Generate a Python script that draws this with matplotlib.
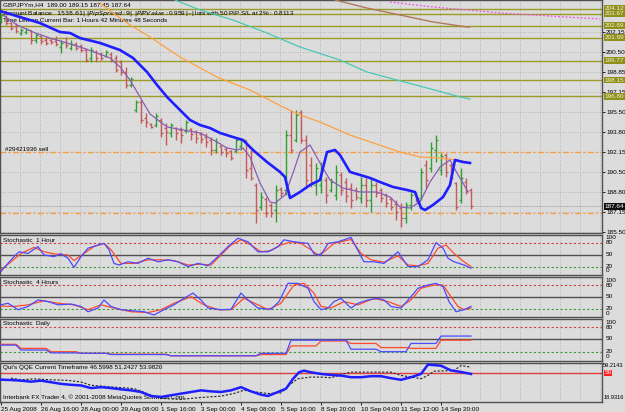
import numpy as np
import matplotlib
matplotlib.use("Agg")
import matplotlib.pyplot as plt
import matplotlib.transforms as mtransforms

plt.rcParams["font.family"] = ["Liberation Sans", "DejaVu Sans"]

# ---- price bars (GBPJPYm H4) ----
opens = [203.16, 203.50, 202.91, 202.66, 202.08, 202.16, 202.33, 201.50, 201.83, 201.50,
         201.50, 201.41, 200.91, 201.33, 200.83, 201.16, 201.00, 200.66, 200.00, 200.50,
         200.33, 200.16, 200.33, 200.00, 199.66, 198.83, 197.75, 195.66, 196.33, 195.00,
         194.50, 194.41, 194.83, 194.16, 193.75, 194.16, 194.00, 193.91, 194.08, 193.83,
         193.66, 193.41, 193.16, 192.33, 192.66, 192.41, 192.25, 192.25, 192.66, 193.16,
         190.83, 189.41, 187.58, 188.25, 187.75, 187.33, 189.08, 189.00, 193.58, 193.16,
         195.50, 193.16, 191.08, 189.41, 189.41, 189.83, 189.00, 188.58, 190.25, 189.66,
         189.16, 189.00, 188.33, 189.41, 188.16, 189.41, 189.00, 188.58, 188.25, 187.83,
         187.50, 186.66, 187.75, 188.66, 188.33, 191.08, 190.83, 192.33, 190.66, 191.91,
         191.08, 189.58, 188.16, 189.66, 189.00]
highs = [203.75, 203.58, 203.00, 202.91, 202.50, 202.50, 202.33, 202.08, 201.91, 201.75,
         201.66, 201.83, 201.50, 201.75, 201.50, 201.33, 201.16, 200.83, 200.91, 200.66,
         200.50, 200.66, 200.50, 200.25, 199.83, 199.25, 198.41, 196.50, 196.50, 195.41,
         194.58, 195.41, 195.00, 194.58, 194.58, 194.25, 194.25, 194.83, 194.16, 194.00,
         193.83, 193.75, 193.41, 193.33, 192.75, 192.58, 192.33, 193.41, 193.33, 193.16,
         192.33, 189.58, 188.83, 188.41, 187.91, 189.41, 189.25, 194.00, 195.66, 195.66,
         195.66, 193.58, 191.75, 191.25, 191.33, 190.08, 190.00, 191.08, 190.50, 190.00,
         189.58, 189.25, 190.08, 190.00, 190.00, 189.66, 189.16, 188.75, 188.41, 188.16,
         187.91, 188.00, 188.83, 188.83, 190.83, 191.50, 193.00, 193.58, 192.08, 192.08,
         191.25, 189.66, 190.83, 190.00, 189.15]
lows = [202.91, 202.75, 202.33, 202.08, 201.91, 202.00, 201.16, 201.25, 201.16, 201.08,
        201.16, 201.00, 200.41, 200.83, 200.66, 200.66, 200.50, 199.66, 199.66, 199.66,
        199.83, 200.08, 199.66, 198.83, 198.58, 197.50, 197.58, 195.50, 194.58, 194.25,
        194.16, 194.25, 193.41, 192.75, 193.41, 193.16, 192.91, 193.75, 193.16, 192.91,
        192.91, 192.58, 191.91, 192.08, 191.91, 191.75, 191.50, 192.08, 192.33, 190.00,
        189.83, 186.25, 187.33, 186.75, 186.75, 186.33, 188.41, 188.58, 192.08, 193.00,
        192.91, 189.25, 189.25, 188.58, 188.75, 187.91, 188.83, 188.16, 188.58, 188.00,
        187.50, 188.16, 187.91, 187.58, 187.16, 188.41, 188.00, 187.58, 187.33, 186.50,
        185.91, 186.25, 187.33, 188.00, 188.16, 189.16, 190.50, 191.33, 190.25, 190.08,
        189.83, 187.33, 187.91, 188.66, 187.45]
closes = [203.58, 202.91, 202.50, 202.25, 202.33, 202.41, 201.50, 201.91, 201.41, 201.25,
          201.33, 201.16, 201.25, 201.08, 201.16, 200.83, 200.66, 199.83, 200.66, 200.00,
          200.00, 200.50, 199.83, 199.00, 198.83, 197.75, 198.25, 196.33, 194.83, 194.66,
          194.25, 195.16, 193.75, 193.83, 194.41, 193.75, 193.58, 194.66, 193.66, 193.33,
          193.25, 193.00, 192.33, 193.00, 192.16, 192.08, 191.66, 193.16, 193.16, 190.66,
          190.00, 187.33, 188.41, 187.08, 187.08, 189.00, 188.75, 193.58, 192.33, 195.25,
          193.16, 189.83, 189.66, 190.83, 190.66, 188.58, 189.66, 190.50, 189.00, 188.50,
          188.16, 188.41, 189.41, 188.16, 189.41, 188.75, 188.33, 187.91, 187.58, 187.16,
          186.66, 187.75, 188.58, 188.25, 190.50, 189.83, 192.50, 193.16, 191.83, 190.50,
          190.00, 187.58, 190.00, 188.91, 187.64]

# ---- moving averages (bar index, price) ----
blue_ma_x = [-0.2, 3.8, 7.8, 11.8, 13.8, 15.8, 19.8, 23.8, 26.4, 29.2, 31.2, 33.2, 35.8, 37.8,
             39.8, 41.8, 43.8, 46.4, 48.4, 50.4, 53.2, 55.8, 56.8, 57.8, 59.8, 61.8, 63.8,
             65.2, 66.8, 67.8, 69.8, 71.8, 73.8, 75.8, 78.4, 81.2, 82.8, 84.0, 84.8, 86.4,
             88.4, 89.8, 90.8, 92.4, 93.8]
blue_ma_y = [203.91, 203.41, 202.91, 202.16, 202.08, 201.66, 201.25, 200.66, 200.00, 198.83,
             197.75, 196.75, 195.66, 194.83, 194.41, 194.16, 193.75, 193.41, 193.16, 192.33,
             191.33, 190.50, 190.08, 188.33, 188.83, 189.41, 189.83, 192.16, 192.33, 191.91,
             190.50, 190.25, 190.00, 189.66, 189.25, 189.00, 188.83, 187.50, 187.33, 187.75,
             188.41, 189.41, 191.50, 191.33, 191.25]
purple_ma_x = [0.4, 3.2, 6.4, 9.8, 13.2, 16.4, 19.2, 21.8, 23.8, 25.8, 27.8, 29.8, 33.2, 36.4,
               39.8, 43.2, 45.2, 47.2, 48.4, 49.8, 51.8, 53.8, 54.8, 56.8, 58.4, 59.8, 61.8,
               63.8, 65.8, 68.4, 71.8, 75.2, 77.8, 79.8, 81.8, 83.8, 85.8, 87.8, 89.8, 91.2,
               92.4, 93.4]
purple_ma_y = [203.58, 202.75, 202.16, 201.66, 201.25, 200.83, 200.41, 200.00, 199.25, 198.16,
               196.75, 195.33, 194.25, 194.00, 193.75, 193.00, 192.50, 192.33, 192.50, 191.75,
               189.58, 188.00, 187.91, 188.58, 190.41, 192.16, 192.75, 191.25, 189.83, 189.16,
               188.83, 188.83, 188.41, 187.58, 187.50, 188.00, 189.66, 190.91, 191.50, 190.41,
               189.58, 188.83]
orange_ma_x = [19.8, 22.4, 25.8, 29.8, 35.8, 43.2, 49.8, 56.4, 59.8, 63.8, 69.8, 79.8, 83.8,
               87.8, 91.2, 93.2]
orange_ma_y = [204.58, 203.75, 202.75, 201.75, 200.08, 198.41, 197.33, 195.91, 195.25, 194.66,
               193.58, 192.16, 191.75, 191.66, 191.50, 191.33]
cyan_ma_x = [34.8, 39.8, 46.4, 53.2, 59.8, 67.8, 73.2, 79.2, 85.2, 91.8, 93.8]
cyan_ma_y = [204.83, 204.00, 203.16, 202.08, 200.91, 199.83, 198.83, 198.16, 197.50, 196.75, 196.58]
brown_ma_x = [66.8, 73.2, 79.8, 86.4, 93.2, 93.8]
brown_ma_y = [204.83, 204.16, 203.58, 203.00, 202.58, 202.58]
magenta_x = [77.8, 86.4, 93.2, 99.8, 106.4, 113.2, 119.8]
magenta_y = [204.66, 204.25, 204.00, 203.75, 203.58, 203.41, 203.25]

olive_levels = [204.12, 203.67, 202.69, 201.69, 199.77, 198.15, 196.80]
order_levels = [192.15, 187.05]
bid_price = 187.64
price_ticks = [185.50, 187.15, 188.80, 190.50, 192.15, 193.80, 195.50, 197.15, 198.85, 200.50, 202.15]

# ---- stochastic 1 hour ----
st1_blue_x = [0, 1.4, 2.6, 3.6, 5.4, 7.4, 8.6, 10.6, 12, 13.4, 14.6, 16, 17.4, 19.4, 20.6, 21.6,
              22.6, 23.6, 25.4, 27.4, 29.4, 31.4, 33.4, 35.4, 37.4, 39.4, 41.4, 43.4, 45.4, 47.4,
              49.4, 51.4, 53.4, 55.4, 56.6, 58.6, 60, 61.4, 62.6, 64, 65.4, 67.4, 70, 72.6, 74.6,
              76.6, 79.4, 81.4, 83.4, 85.4, 87, 88.4, 89.4, 90.6, 92.6, 94]
st1_blue_y = [8, 28, 45, 57, 53, 70, 49, 45, 52, 41, 18, 45, 66, 74, 78, 62, 28, 24, 32, 28, 41,
              32, 37, 32, 20, 28, 22, 45, 70, 91, 82, 57, 57, 70, 87, 82, 80, 78, 52, 49, 78, 82,
              93, 32, 32, 28, 57, 20, 20, 37, 80, 66, 41, 32, 24, 16]
st1_red_x = [0, 2, 4, 6.6, 8.6, 10.6, 13.4, 14.6, 16.6, 18.6, 20.6, 22, 24, 26.6, 29.4, 32, 34.6,
             37.4, 40, 42, 44, 46, 48, 50, 52, 54, 56, 58, 60, 62, 63.4, 64.6, 66.6, 70, 72, 74,
             76.6, 79.4, 81.4, 83.4, 85.4, 87.4, 89, 90.6, 92.6, 94]
st1_red_y = [12, 32, 53, 68, 57, 52, 49, 35, 53, 70, 78, 62, 28, 28, 37, 37, 35, 24, 26, 24, 49,
             74, 87, 74, 57, 60, 74, 82, 78, 62, 49, 57, 78, 88, 53, 37, 31, 47, 24, 22, 28, 66,
             74, 53, 32, 20]

# ---- stochastic 4 hours ----
st4_blue_x = [0, 1.4, 3.4, 5.4, 7.4, 9.4, 11.4, 14, 16, 17.4, 19.4, 20.6, 22, 24, 26.6, 28.6,
              30.6, 32.6, 34.6, 36.6, 38.4, 40, 41.4, 44, 46, 48, 49.4, 51.4, 54, 55.6, 57.4,
              59.4, 60, 61.4, 62.6, 64, 65.4, 66.6, 68, 70, 71.4, 73.4, 75.4, 76.6, 78, 80, 82,
              83.4, 85.4, 87, 88.4, 89.6, 91, 92.6, 94]
st4_blue_y = [31, 35, 19, 27, 43, 39, 31, 33, 27, 14, 23, 43, 27, 19, 16, 14, 6, 19, 31, 47, 60,
              43, 23, 19, 20, 60, 43, 23, 20, 39, 84, 84, 80, 72, 39, 19, 23, 39, 47, 23, 35, 43,
              47, 43, 27, 23, 51, 72, 80, 84, 76, 39, 14, 19, 27]
st4_red_x = [0, 2.6, 5.4, 8.6, 11.4, 14.6, 17.4, 20, 22.6, 26, 29.4, 32, 34.6, 38, 40.6, 43.4,
             46, 48.6, 51.4, 53.4, 56, 58.6, 60.6, 62.6, 64, 66, 68.6, 71.4, 74.6, 77.4, 80, 82,
             84, 86.6, 88.4, 90, 91.4, 92.6, 94]
st4_red_y = [28, 27, 31, 41, 35, 31, 19, 31, 23, 14, 12, 19, 35, 51, 31, 19, 19, 47, 31, 19, 35,
             80, 84, 60, 27, 23, 39, 31, 47, 39, 27, 43, 72, 80, 80, 51, 27, 19, 23]

# ---- stochastic daily (one value per day, days start at these bars) ----
day_start = [0, 4, 10, 16, 22, 28, 34, 40, 46, 52, 58, 64, 70, 76, 82, 88, 95]
std_blue = [36, 24, 17, 16, 13, 13, 10, 10, 10, 16, 48, 48, 26, 20, 40, 58]
std_red = [38, 28, 20, 16, 14, 14, 10, 10, 10, 13, 34, 46, 40, 30, 28, 48]

# ---- QQE ----
qqe_x = [0, 2, 4, 6, 8, 10, 12, 14, 16, 18, 20, 22, 24, 26, 28, 30, 32, 34, 36, 38, 40, 42, 44,
         46, 48, 50, 52, 53.4, 57, 58.4, 59.6, 60.6, 62, 64, 66, 68, 70, 72, 74, 76, 78, 80, 82,
         84, 85.4, 88, 90, 92, 94]
qqe_y = [41.2, 40.7, 39.9, 38.6, 39.9, 37.9, 35.8, 34.6, 33.8, 30.4, 31.6, 30.4, 28.8, 27.5,
         25.4, 20.3, 19.1, 21.2, 23.3, 25.4, 27.5, 26.2, 25.4, 27.5, 31.6, 26.2, 22.0, 20.3, 29.6,
         42.2, 50.6, 52.7, 50.6, 48.5, 47.2, 46.4, 44.3, 44.3, 45.6, 45.6, 43.1, 41.0, 44.3, 48.5,
         60.5, 59.0, 53.0, 51.0, 48.5]
sig_x = [2, 4, 6.6, 10, 13.4, 16, 18, 22, 26.6, 30, 32, 36, 40, 44, 46.6, 48.6, 50.6, 53.4, 56,
         58, 59.4, 62, 64, 66, 68.6, 70, 78, 80, 84, 85.4, 86.6, 90.6, 92, 94]
sig_y = [43.2, 41.0, 42.2, 41.0, 40.3, 38.2, 34.0, 31.9, 29.8, 21.4, 17.2, 15.9, 18.4, 20.1, 23.5,
         27.7, 25.6, 23.5, 24.3, 36.0, 42.4, 44.5, 44.5, 43.6, 48.7, 50.8, 50.8, 46.6, 42.4, 46.6,
         52.0, 52.9, 59.2, 57.1]

tick_pos = [0, 8, 16, 24, 32, 40, 48, 56, 64, 72, 80, 88]
tick_labels = ["25 Aug 2008", "26 Aug 16:00", "28 Aug 00:00", "29 Aug 08:00", "1 Sep 16:00",
               "3 Sep 00:00", "4 Sep 08:00", "5 Sep 16:00", "8 Sep 20:00", "10 Sep 04:00",
               "11 Sep 12:00", "14 Sep 20:00"]

W, H = 625, 412
BG = "#dcdcdc"
FS = 4.6
XLIM = (-0.2, 120.2)
GRID = dict(color="#a8a8a8", linestyle=(0, (1, 2)), linewidth=0.6)


def px_axes(fig, x0, y0, x1, y1):
    ax = fig.add_axes([x0 / W, 1 - y1 / H, (x1 - x0) / W, (y1 - y0) / H])
    ax.set_facecolor(BG)
    ax.set_xlim(*XLIM)
    for s in ax.spines.values():
        s.set_color("#505050")
        s.set_linewidth(1.0)
    ax.set_xticks([])
    ax.yaxis.tick_right()
    ax.tick_params(axis="y", length=2, width=0.6, pad=1, labelsize=FS, colors="black")
    for gx in np.arange(3.8, 120, 4):
        ax.axvline(gx, zorder=0, **GRID)
    return ax


def right_box(ax, y, txt, fc, tc="white"):
    tr = mtransforms.blended_transform_factory(ax.transAxes, ax.transData)
    ax.text(1.004, y, txt, transform=tr, fontsize=FS, color=tc, va="center", ha="left",
            bbox=dict(boxstyle="square,pad=0.12", fc=fc, ec="none"), zorder=10, clip_on=False)


fig = plt.figure(figsize=(W / 100, H / 100), dpi=100)
fig.patch.set_facecolor(BG)

# ---------------- main price pane ----------------
ax = px_axes(fig, 0, 0, 602, 233)
ax.set_ylim(204.83 - 233 / 12, 204.83)
ax.set_yticks(price_ticks)
ax.set_yticklabels([f"{v:.2f}" for v in price_ticks])
for v in price_ticks:
    ax.axhline(v, zorder=0, **GRID)

for lv in olive_levels:
    ax.axhline(lv, color="#9c9c28", linewidth=1.0, zorder=1)
    right_box(ax, lv, f"{lv:.2f}", "#8f8f1c", "#f4f4d0")
for lv in order_levels:
    ax.axhline(lv, color="#ff9a3c", linewidth=1.0, linestyle=(0, (4, 2, 1, 2)), zorder=1)
ax.axhline(bid_price, color="#909090", linewidth=0.6, linestyle=(0, (1, 1)), zorder=1)
right_box(ax, bid_price, f"{bid_price:.2f}", "#101010")

idx = np.arange(len(opens))
o, h, l, c = map(np.array, (opens, highs, lows, closes))
up = c >= o
for mask, col in ((up, "#2fa02f"), (~up, "#c45a5a")):
    ax.vlines(idx[mask], l[mask], h[mask], color=col, linewidth=1.0, zorder=3)
    ax.hlines(o[mask], idx[mask] - 0.4, idx[mask], color=col, linewidth=1.0, zorder=3)
    ax.hlines(c[mask], idx[mask], idx[mask] + 0.4, color=col, linewidth=1.0, zorder=3)

ax.plot(orange_ma_x, orange_ma_y, color="#ffa040", linewidth=0.9, zorder=4)
ax.plot(cyan_ma_x, cyan_ma_y, color="#48c8b8", linewidth=0.9, zorder=4)
ax.plot(brown_ma_x, brown_ma_y, color="#b0785a", linewidth=1.0, zorder=4)
ax.plot(magenta_x, magenta_y, color="#f050f0", linewidth=0.9, linestyle=(0, (1.5, 1.5)), zorder=4)
ax.plot(purple_ma_x, purple_ma_y, color="#8a5cb8", linewidth=0.9, zorder=4)
ax.plot(blue_ma_x, blue_ma_y, color="#1e1eff", linewidth=1.9, zorder=5)

hdr = dict(transform=ax.transAxes, fontsize=FS, color="black", ha="left", va="center", zorder=2)
ax.text(3 / 602, 1 - 5 / 233, "GBPJPYm,H4  189.00 189.15 187.45 187.64", **hdr)
ax.text(3 / 602, 1 - 13 / 233,
        "Account Balance:  $1538.61 |~| Pip Spread:  9 |~| PIP Value:  $0.959 |~| "
        "lots with 50 PIP S/L at 2% : 0.8113", **hdr)
ax.text(3 / 602, 1 - 20 / 233, "Time Left on Current Bar: 1 Hours 42 Minutes 48 Seconds", **hdr)
ax.text(0.8, 192.15 + 0.05, "#29421936 sell", fontsize=FS, color="black", va="bottom", ha="left",
        zorder=2)


# ---------------- stochastic panes ----------------
def stoch_pane(y0, y1, ylim, title):
    a = px_axes(fig, 0, y0, 602, y1)
    a.set_ylim(*ylim)
    a.set_yticks([])
    a.axhline(80, color="#d04040", linewidth=0.8, linestyle=(0, (2, 2)), zorder=1)
    a.axhline(50, color="#505050", linewidth=1.0, zorder=1)
    a.axhline(20, color="#3a9a3a", linewidth=0.8, linestyle=(0, (2, 2)), zorder=1)
    tr = mtransforms.blended_transform_factory(a.transAxes, a.transData)
    for val, txt in ((92, "100"), (79, "80"), (51, "50"), (21, "20"), (9, "0")):
        a.text(1.006, val, txt, transform=tr, fontsize=FS, va="center", ha="left", clip_on=False)
    a.text(3 / 602, 1 - 5 / (y1 - y0), title, transform=a.transAxes, fontsize=FS, va="center",
           ha="left")
    return a


a1 = stoch_pane(235, 275, (-1, 99), "Stochastic  1 Hour")
a1.plot(st1_red_x, st1_red_y, color="#ff4a2a", linewidth=0.9, zorder=3)
a1.plot(st1_blue_x, st1_blue_y, color="#4a4aff", linewidth=0.9, zorder=3)

a4 = stoch_pane(277, 317, (1, 99.7), "Stochastic  4 Hours")
a4.plot(st4_red_x, st4_red_y, color="#ff4a2a", linewidth=0.9, zorder=3)
a4.plot(st4_blue_x, st4_blue_y, color="#4a4aff", linewidth=0.9, zorder=3)

ad = stoch_pane(319, 361, (-2.7, 99.5), "Stochastic  Daily")
counts = np.diff(day_start)
ad.plot(idx, np.repeat(std_red, counts), color="#ff4a2a", linewidth=0.9, zorder=3)
ad.plot(idx, np.repeat(std_blue, counts), color="#4a4aff", linewidth=0.9, zorder=3)

# ---------------- QQE pane ----------------
aq = px_axes(fig, 0, 363, 602, 402)
aq.set_ylim(12.6, 62.5)
aq.set_yticks([])
aq.axhline(50, color="#e04040", linewidth=1.0, zorder=1)
aq.plot(sig_x, sig_y, color="#202020", linewidth=0.8, linestyle=(0, (2, 1.5)), zorder=3)
aq.plot(qqe_x, qqe_y, color="#1e1eff", linewidth=1.8, zorder=4)
trq = mtransforms.blended_transform_factory(aq.transAxes, aq.transData)
aq.text(1.002, 59.2, "59.2143", transform=trq, fontsize=4.1, va="center", ha="left", clip_on=False)
aq.text(1.004, 50, "50", transform=trq, fontsize=FS, va="center", ha="left", color="white",
        bbox=dict(boxstyle="square,pad=0.1", fc="#ff2020", ec="none"), clip_on=False)
aq.text(1.002, 18.9, "18.9316", transform=trq, fontsize=4.1, va="center", ha="left", clip_on=False)
aq.text(3 / 602, 1 - 5 / 39, "Qui's QQE Current Timeframe 46.5998 51.2427 53.9820",
        transform=aq.transAxes, fontsize=FS, va="center", ha="left")
aq.text(3 / 602, 1 - 34 / 39, "Interbank FX Trader 4, \u00a9 2001-2008 MetaQuotes Software Corp.",
        transform=aq.transAxes, fontsize=FS, va="center", ha="left", zorder=2)

aq.set_xticks(tick_pos)
aq.set_xticklabels(tick_labels, fontsize=FS, ha="left")
aq.tick_params(axis="x", length=2, width=0.6, pad=1.5)

fig.savefig("out.png", dpi=100, facecolor=BG)
